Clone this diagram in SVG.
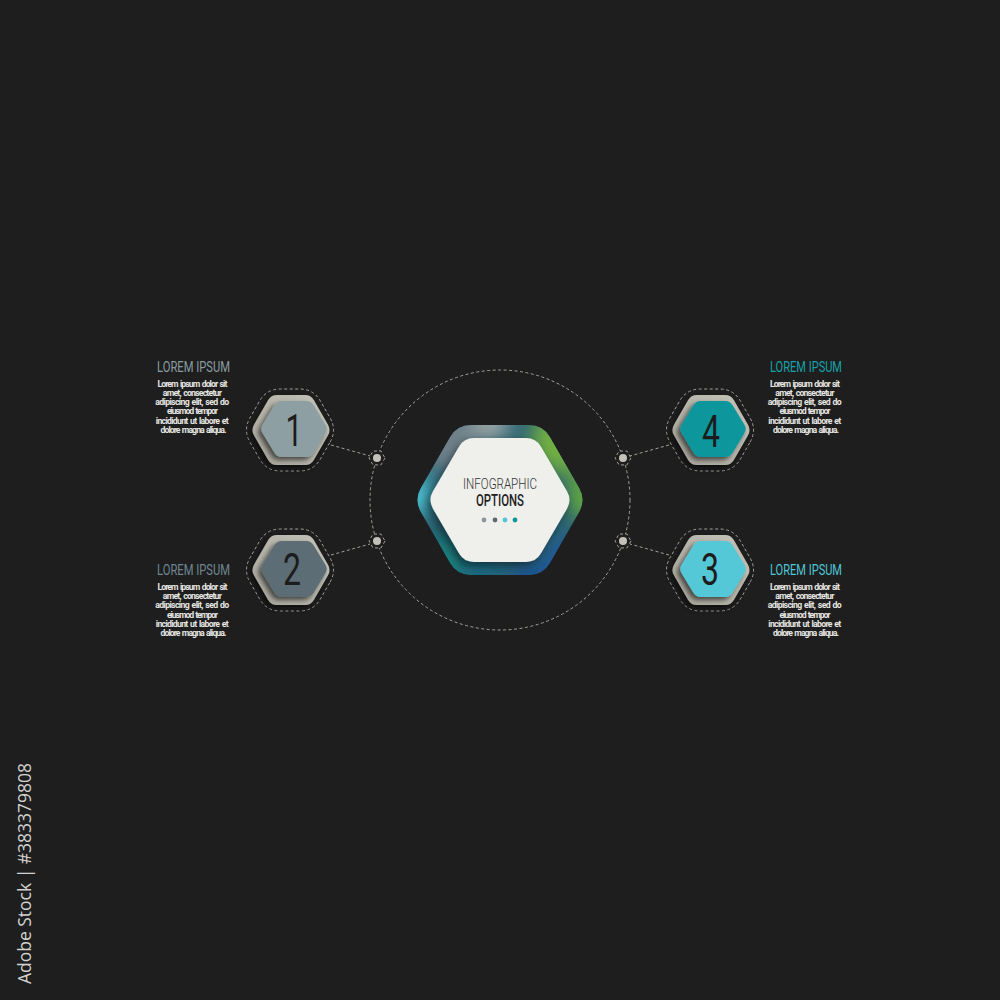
<svg xmlns="http://www.w3.org/2000/svg" width="1000" height="1000" viewBox="0 0 1000 1000">
<defs>
<style>
.dash{fill:none;stroke:#a3a298;stroke-width:1;stroke-dasharray:3 2.5}
.ttl{font-family:Roboto,"Liberation Sans",sans-serif;font-size:14px;text-anchor:middle}
.body{font-family:Roboto,"Liberation Sans",sans-serif;font-size:8.7px;font-weight:700;fill:#e6e6e2;text-anchor:middle;word-spacing:1px}
.num{font-family:Roboto,"Liberation Sans",sans-serif;font-size:44px;font-weight:400;fill:#1c1c1c;text-anchor:middle}
.dot{fill:#c3c2b8}
</style>
<path id="outlineHex" d="M 40.04,12.14 Q 47,0 40.04,-12.14 L 30.46,-28.86 Q 23.5,-41 9.5,-41 L -9.5,-41 Q -23.5,-41 -30.46,-28.86 L -40.04,-12.14 Q -47,0 -40.04,12.14 L -30.46,28.86 Q -23.5,41 -9.5,41 L 9.5,41 Q 23.5,41 30.46,28.86 Z"/>
<path id="beigeHex" d="M 37.02,5.21 Q 40,0 37.02,-5.21 L 22.98,-29.79 Q 20,-35 14,-35 L -14,-35 Q -20,-35 -22.98,-29.79 L -37.02,-5.21 Q -40,0 -37.02,5.21 L -22.98,29.79 Q -20,35 -14,35 L 14,35 Q 20,35 22.98,29.79 Z"/>
<path id="colorHex" d="M 31.41,4.27 Q 34,0 31.41,-4.27 L 19.59,-23.73 Q 17,-28 12,-28 L -12,-28 Q -17,-28 -19.59,-23.73 L -31.41,-4.27 Q -34,0 -31.41,4.27 L -19.59,23.73 Q -17,28 -12,28 L 12,28 Q 17,28 19.59,23.73 Z"/>
<polygon id="smallHex" points="8,0 4,6.93 -4,6.93 -8,0 -4,-6.93 4,-6.93"/>
<path id="outerHex" d="M 79.03,12.15 Q 86,0 79.03,-12.15 L 49.97,-62.85 Q 43,-75 29,-75 L -29,-75 Q -43,-75 -49.97,-62.85 L -79.03,-12.15 Q -86,0 -79.03,12.15 L -49.97,62.85 Q -43,75 -29,75 L 29,75 Q 43,75 49.97,62.85 Z"/>
<path id="innerHex" d="M 66.98,8.65 Q 72,0 66.98,-8.65 L 41.02,-53.35 Q 36,-62 26,-62 L -26,-62 Q -36,-62 -41.02,-53.35 L -66.98,-8.65 Q -72,0 -66.98,8.65 L -41.02,53.35 Q -36,62 -26,62 L 26,62 Q 36,62 41.02,53.35 Z"/>
<linearGradient id="beigeGrad" x1="1" y1="0" x2="0" y2="1">
<stop offset="0" stop-color="#c4c3b8"/>
<stop offset="1" stop-color="#a8a69c"/>
</linearGradient>
<filter id="shadowS" x="-40%" y="-40%" width="180%" height="180%">
<feDropShadow dx="-3" dy="3" stdDeviation="2.5" flood-color="#000" flood-opacity="0.6"/>
</filter>
<filter id="shadowB" x="-40%" y="-40%" width="180%" height="180%">
<feDropShadow dx="-2" dy="3" stdDeviation="3" flood-color="#000" flood-opacity="0.6"/>
</filter>
<filter id="shadowC" x="-30%" y="-30%" width="160%" height="160%">
<feDropShadow dx="-3" dy="4" stdDeviation="4" flood-color="#000" flood-opacity="0.45"/>
</filter>
<filter id="blur" x="-50%" y="-50%" width="200%" height="200%">
<feGaussianBlur stdDeviation="10"/>
</filter>
<clipPath id="outerClip">
<use href="#outerHex" transform="translate(500,500)"/>
</clipPath>
</defs>

<rect width="1000" height="1000" fill="#1e1e1e"/>

<g id="connectors">
<circle cx="500" cy="500" r="130" class="dash" stroke="#8e8d85"/>
<line x1="331" y1="445" x2="370" y2="456" class="dash"/>
<line x1="331" y1="555" x2="370" y2="544" class="dash"/>
<line x1="669" y1="445" x2="630" y2="456" class="dash"/>
<line x1="669" y1="555" x2="630" y2="544" class="dash"/>
</g>

<g id="junction-1" transform="translate(377,458)">
<use href="#smallHex" fill="#1e1e1e"/><use href="#smallHex" class="dash"/><circle r="4" class="dot"/>
</g>
<g id="junction-2" transform="translate(377,541)">
<use href="#smallHex" fill="#1e1e1e"/><use href="#smallHex" class="dash"/><circle r="4" class="dot"/>
</g>
<g id="junction-4" transform="translate(623,458)">
<use href="#smallHex" fill="#1e1e1e"/><use href="#smallHex" class="dash"/><circle r="4" class="dot"/>
</g>
<g id="junction-3" transform="translate(623,541)">
<use href="#smallHex" fill="#1e1e1e"/><use href="#smallHex" class="dash"/><circle r="4" class="dot"/>
</g>

<g id="center">
<g clip-path="url(#outerClip)">
<rect x="410" y="420" width="180" height="160" fill="#2a6272"/>
<g filter="url(#blur)">
<circle cx="445" cy="440" r="30" fill="#6f8089"/>
<circle cx="490" cy="422" r="20" fill="#9ca6a6"/>
<circle cx="565" cy="440" r="34" fill="#72b040"/>
<circle cx="595" cy="495" r="28" fill="#62a83c"/>
<circle cx="575" cy="568" r="30" fill="#1a54a6"/>
<circle cx="530" cy="588" r="22" fill="#16509a"/>
<circle cx="480" cy="588" r="22" fill="#0e6a86"/>
<circle cx="435" cy="565" r="24" fill="#0f8a80"/>
<circle cx="408" cy="495" r="24" fill="#4cc2d4"/>
</g>
</g>
<use href="#innerHex" transform="translate(500,500)" fill="#efefec" filter="url(#shadowC)"/>
<text x="500" y="489" font-family="Roboto,'Liberation Sans',sans-serif" font-size="15" font-weight="300" fill="#333" text-anchor="middle" textLength="74" lengthAdjust="spacingAndGlyphs">INFOGRAPHIC</text>
<text x="500" y="506" font-family="Roboto,'Liberation Sans',sans-serif" font-size="16" font-weight="500" fill="#1e1e1e" text-anchor="middle" textLength="48" lengthAdjust="spacingAndGlyphs">OPTIONS</text>
<circle cx="484" cy="520" r="2.4" fill="#8a979c"/>
<circle cx="495" cy="520" r="2.4" fill="#5b6a72"/>
<circle cx="505" cy="520" r="2.4" fill="#50c6d8"/>
<circle cx="515" cy="520" r="2.4" fill="#0c979c"/>
</g>

<g id="node-1">
<use href="#outlineHex" transform="translate(290,430)" class="dash"/>
<use href="#beigeHex" transform="translate(291,430)" fill="url(#beigeGrad)" filter="url(#shadowB)"/>
<use href="#colorHex" transform="translate(294,429)" fill="#8e9fa4" filter="url(#shadowS)"/>
<text x="294" y="446" class="num" textLength="17" lengthAdjust="spacingAndGlyphs">1</text>
<text x="193.5" y="372" class="ttl" fill="#8a9ca2" textLength="73" lengthAdjust="spacingAndGlyphs">LOREM IPSUM</text>
<text class="body" lengthAdjust="spacingAndGlyphs">
<tspan x="193.5" y="386.7" textLength="70">Lorem ipsum dolor sit</tspan>
<tspan x="193.5" y="395.9" textLength="59">amet, consectetur</tspan>
<tspan x="193.5" y="405.1" textLength="74">adipiscing elit, sed do</tspan>
<tspan x="193.5" y="414.3" textLength="51">eiusmod tempor</tspan>
<tspan x="193.5" y="423.5" textLength="73">incididunt ut labore et</tspan>
<tspan x="193.5" y="432.7" textLength="66">dolore magna aliqua.</tspan>
</text>
</g>

<g id="node-2">
<use href="#outlineHex" transform="translate(290,570)" class="dash"/>
<use href="#beigeHex" transform="translate(291,570)" fill="url(#beigeGrad)" filter="url(#shadowB)"/>
<use href="#colorHex" transform="translate(294,569)" fill="#5c6d75" filter="url(#shadowS)"/>
<text x="292" y="585" class="num" textLength="18" lengthAdjust="spacingAndGlyphs">2</text>
<text x="193.5" y="575" class="ttl" fill="#6e8790" textLength="73" lengthAdjust="spacingAndGlyphs">LOREM IPSUM</text>
<text class="body" lengthAdjust="spacingAndGlyphs">
<tspan x="193.5" y="590" textLength="70">Lorem ipsum dolor sit</tspan>
<tspan x="193.5" y="599.2" textLength="59">amet, consectetur</tspan>
<tspan x="193.5" y="608.4" textLength="74">adipiscing elit, sed do</tspan>
<tspan x="193.5" y="617.6" textLength="51">eiusmod tempor</tspan>
<tspan x="193.5" y="626.8" textLength="73">incididunt ut labore et</tspan>
<tspan x="193.5" y="636" textLength="66">dolore magna aliqua.</tspan>
</text>
</g>

<g id="node-4">
<use href="#outlineHex" transform="translate(710,430)" class="dash"/>
<use href="#beigeHex" transform="translate(711,430)" fill="url(#beigeGrad)" filter="url(#shadowB)"/>
<use href="#colorHex" transform="translate(713,429)" fill="#0c979c" filter="url(#shadowS)"/>
<text x="711" y="447" class="num" textLength="18" lengthAdjust="spacingAndGlyphs">4</text>
<text x="806" y="372" class="ttl" fill="#17a2aa" textLength="72" lengthAdjust="spacingAndGlyphs">LOREM IPSUM</text>
<text class="body" lengthAdjust="spacingAndGlyphs">
<tspan x="806" y="386.7" textLength="70">Lorem ipsum dolor sit</tspan>
<tspan x="806" y="395.9" textLength="59">amet, consectetur</tspan>
<tspan x="806" y="405.1" textLength="74">adipiscing elit, sed do</tspan>
<tspan x="806" y="414.3" textLength="51">eiusmod tempor</tspan>
<tspan x="806" y="423.5" textLength="73">incididunt ut labore et</tspan>
<tspan x="806" y="432.7" textLength="66">dolore magna aliqua.</tspan>
</text>
</g>

<g id="node-3">
<use href="#outlineHex" transform="translate(710,570)" class="dash"/>
<use href="#beigeHex" transform="translate(711,570)" fill="url(#beigeGrad)" filter="url(#shadowB)"/>
<use href="#colorHex" transform="translate(713,569)" fill="#55c8d8" filter="url(#shadowS)"/>
<text x="710" y="585" class="num" textLength="18" lengthAdjust="spacingAndGlyphs">3</text>
<text x="806" y="575" class="ttl" fill="#4fc6d6" textLength="72" lengthAdjust="spacingAndGlyphs">LOREM IPSUM</text>
<text class="body" lengthAdjust="spacingAndGlyphs">
<tspan x="806" y="590" textLength="70">Lorem ipsum dolor sit</tspan>
<tspan x="806" y="599.2" textLength="59">amet, consectetur</tspan>
<tspan x="806" y="608.4" textLength="74">adipiscing elit, sed do</tspan>
<tspan x="806" y="617.6" textLength="51">eiusmod tempor</tspan>
<tspan x="806" y="626.8" textLength="73">incididunt ut labore et</tspan>
<tspan x="806" y="636" textLength="66">dolore magna aliqua.</tspan>
</text>
</g>

<text transform="translate(31,984) rotate(-90)" font-family="'Open Sans','DejaVu Sans',sans-serif" font-size="18" fill="#d2d2d0" textLength="221" lengthAdjust="spacingAndGlyphs">Adobe Stock | #383379808</text>
</svg>
